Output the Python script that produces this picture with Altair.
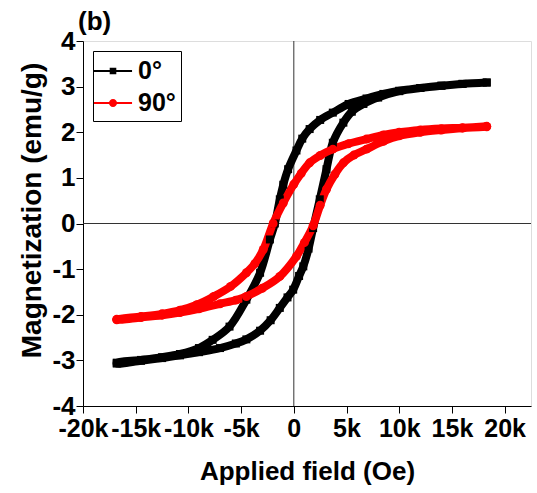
import altair as alt
import pandas as pd

# ---- data (H in kOe, M in emu/g) ----
series_names = ["0°", "90°"]
panel_label = ["(b)"]

black_up_h = [18.3, 16, 14, 12, 10, 8.5, 6.9, 5.2, 3.7, 2.5, 1.5, 0.8, 0.25, -0.54, -1.0, -1.33, -1.8, -2.27, -3.2, -4.5, -6.1, -7.7, -9.0, -10.8, -12.5, -14.5, -16.8]
black_up_m = [3.09, 3.06, 3.02, 2.97, 2.91, 2.84, 2.74, 2.62, 2.43, 2.27, 2.07, 1.86, 1.60, 1.19, 0.85, 0.53, 0.0, -0.35, -1.08, -1.67, -2.26, -2.55, -2.73, -2.86, -2.93, -2.99, -3.05]
black_dn_h = [-16.8, -14.5, -12.5, -10.8, -9.0, -7.0, -5.5, -4.5, -3.2, -2.2, -1.33, -0.6, -0.06, 0.5, 0.9, 1.4, 1.83, 2.46, 3.1, 3.7, 4.7, 5.5, 6.6, 8.0, 10, 12, 14, 16, 18.3]
black_dn_m = [-3.07, -3.01, -2.95, -2.89, -2.82, -2.73, -2.63, -2.54, -2.35, -2.12, -1.85, -1.62, -1.45, -1.15, -0.94, -0.55, -0.1, 0.53, 1.19, 1.77, 2.21, 2.45, 2.62, 2.76, 2.90, 2.97, 3.02, 3.06, 3.09]

red_up_h = [18.3, 16, 14, 12, 10, 8.5, 6.9, 5.2, 3.7, 2.5, 1.5, 0.7, 0.0, -1.0, -1.96, -2.9, -3.7, -4.5, -6.0, -7.6, -9.2, -10.8, -12.5, -14.5, -16.8]
red_up_m = [2.13, 2.10, 2.08, 2.05, 2.00, 1.94, 1.85, 1.75, 1.63, 1.49, 1.33, 1.10, 0.86, 0.45, 0.0, -0.57, -0.88, -1.08, -1.38, -1.60, -1.78, -1.90, -1.98, -2.04, -2.10]
red_dn_h = [-16.8, -14.5, -12.5, -10.8, -9.0, -7.0, -5.5, -4.5, -3.0, -1.33, 0.25, 1.0, 1.83, 2.5, 3.1, 3.9, 4.7, 5.7, 6.9, 8.5, 10, 12, 14, 16, 18.3]
red_dn_m = [-2.11, -2.06, -2.01, -1.95, -1.87, -1.76, -1.68, -1.60, -1.42, -1.16, -0.72, -0.42, -0.05, 0.40, 0.75, 1.08, 1.33, 1.50, 1.63, 1.80, 1.92, 2.00, 2.05, 2.09, 2.12]

x_ticks = [v * 2500 for v in range(-8, 9)]
y_ticks = [v * 0.5 for v in range(-8, 9)]

rows = []
for name, hs, ms in [
    ("0°", black_up_h + black_dn_h, black_up_m + black_dn_m),
    ("90°", red_up_h + red_dn_h, red_up_m + red_dn_m),
]:
    for i, (h, m) in enumerate(zip(hs, ms)):
        rows.append({"series": name, "H": h * 1000, "M": m, "order": i})
df = pd.DataFrame(rows)

FONT = "Liberation Sans"
colors = ["#000000", "#ff0000"]

xscale = alt.Scale(domain=[-20000, 22500], nice=False, zero=False)
yscale = alt.Scale(domain=[-4, 4], nice=False, zero=False)
cscale = alt.Scale(domain=series_names, range=colors)

x_axis = alt.Axis(
    title="Applied field (Oe)", values=x_ticks, grid=False,
    labelExpr="datum.value % 5000 != 0 ? '' : (datum.value == 0 ? '0' : (datum.value < 0 ? '-' : '') + abs(datum.value)/1000 + 'k')",
    tickSize={"condition": {"test": "datum.value % 5000 == 0", "value": 7}, "value": 4},
    labelFont=FONT, labelFontSize=25, labelFontWeight="bold", labelPadding=3,
    titleFont=FONT, titleFontSize=26, titleFontWeight="bold", titlePadding=17,
    labelFlush=False, labelOverlap=False, domainColor="black", tickColor="black",
    labelColor="black", titleColor="black",
)
y_axis = alt.Axis(
    title="Magnetization (emu/g)", values=y_ticks, grid=False,
    labelExpr="datum.value % 1 != 0 ? '' : (datum.value < 0 ? '-' : '') + abs(datum.value)",
    tickSize={"condition": {"test": "datum.value % 1 == 0", "value": 7}, "value": 4},
    labelFont=FONT, labelFontSize=26, labelFontWeight="bold", labelPadding=1,
    titleFont=FONT, titleFontSize=28, titleFontWeight="bold", titlePadding=5,
    titleY=169,
    labelFlush=False, labelOverlap=False, domainColor="black", tickColor="black",
    labelColor="black", titleColor="black",
)

base = alt.Chart(df)

lines = base.mark_line(strokeWidth=8, interpolate="catmull-rom").encode(
    x=alt.X("H:Q", scale=xscale, axis=x_axis),
    y=alt.Y("M:Q", scale=yscale, axis=y_axis),
    color=alt.Color("series:N", scale=cscale, legend=None),
    order="order:Q",
    detail="series:N",
)

pts_black = base.transform_filter(alt.datum.series == "0°").mark_point(
    shape="square", filled=True, size=64, opacity=1
).encode(x=alt.X("H:Q", scale=xscale), y=alt.Y("M:Q", scale=yscale),
         color=alt.Color("series:N", scale=cscale, legend=None))

pts_red = base.transform_filter(alt.datum.series == "90°").mark_point(
    shape="circle", filled=True, size=80, opacity=1
).encode(x=alt.X("H:Q", scale=xscale), y=alt.Y("M:Q", scale=yscale),
         color=alt.Color("series:N", scale=cscale, legend=None))

zero_df = pd.DataFrame({"v": [0]})
vrule = alt.Chart(zero_df).mark_rule(color="#333333", strokeWidth=1).encode(x=alt.X("v:Q", scale=xscale))
hrule = alt.Chart(zero_df).mark_rule(color="#333333", strokeWidth=1).encode(y=alt.Y("v:Q", scale=yscale))

legend_paths = [
    "M-1.27,-0.07H1.27V0.07H-1.27Z M-0.22,-0.22H0.22V0.22H-0.22Z",
    "M-1.27,-0.07H1.27V0.07H-1.27Z M-0.27,0A0.27,0.27 0 1,1 0.27,0A0.27,0.27 0 1,1 -0.27,0Z",
]
leg = alt.Legend(
    title=None, orient="top-left", offset=10,
    strokeColor="black", fillColor="white", padding=5,
    symbolSize=900, symbolStrokeWidth=0, symbolOpacity=1, labelFont=FONT, labelFontSize=25,
    labelFontWeight="bold", labelColor="black", labelOffset=10, rowPadding=4,
)
legend_layer = base.mark_point(filled=True, opacity=0, strokeWidth=0).encode(
    x=alt.X("H:Q", scale=xscale), y=alt.Y("M:Q", scale=yscale),
    color=alt.Color("series:N", scale=cscale, legend=leg),
    shape=alt.Shape("series:N", scale=alt.Scale(domain=series_names, range=legend_paths), legend=leg),
)

label_layer = alt.Chart(pd.DataFrame({"t": panel_label})).mark_text(
    font=FONT, fontSize=26, fontWeight="bold", color="black", align="left", baseline="alphabetic"
).encode(text="t:N", x=alt.value(-5), y=alt.value(-11))

chart = alt.layer(vrule, hrule, legend_layer, lines, pts_black, pts_red, label_layer).properties(
    width=448, height=365,
    padding={"left": 83, "top": 41, "right": 6, "bottom": 87},
    autosize=alt.AutoSizeParams(type="none"),
).configure_view(stroke="black", strokeWidth=1).configure_legend(
    strokeWidth=1
).configure(background="white")

chart.save("out.html", embed_options={"renderer": "svg", "actions": False})
